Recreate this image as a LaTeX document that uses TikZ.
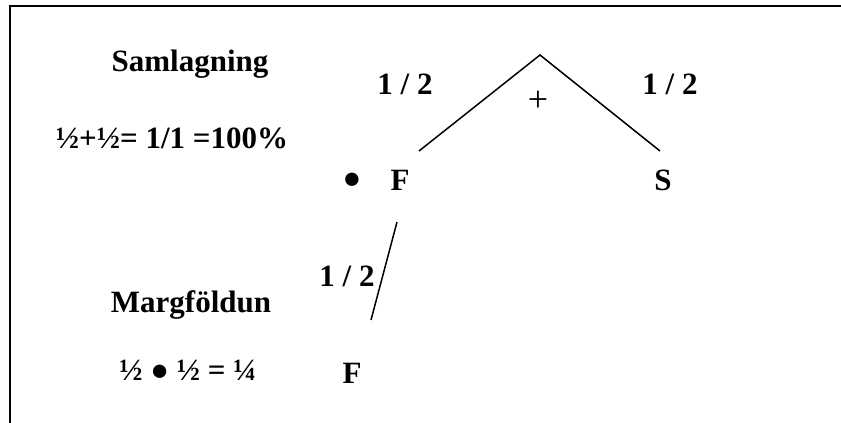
\documentclass[tikz,border=0pt]{standalone}
\usepackage{fontspec}
\setmainfont{Liberation Serif}
\begin{document}
\begin{tikzpicture}[x=1pt,y=-1pt,
  lbl/.style={font=\fontsize{31}{36}\selectfont\bfseries, inner sep=0pt, anchor=base},
  ln/.style={line width=1.5pt}]
\useasboundingbox (0,0) rectangle (841,423);
\draw[line width=2pt] (10,423) -- (10,5.5) -- (841,5.5);
\node[lbl] (sam) at (190,71) {Samlagning};
\node[lbl] (sum) at (172,148) {½+½= 1/1 =100\%};
\coordinate (apex) at (540,55);
\coordinate (lend) at (419,151);
\coordinate (rend) at (660,151);
\draw[ln] (lend) -- (apex) -- (rend);
\node[lbl] (hl) at (405,94) {1 / 2};
\node[lbl] (hr) at (670,94) {1 / 2};
\node[font=\fontsize{36}{40}\selectfont, inner sep=0pt] (plus) at (538,101) {+};
\node[lbl, anchor=center] (dot1) at (352,181) {●};
\node[lbl] (F1) at (400,190) {F};
\node[lbl] (S) at (663,190) {S};
\coordinate (vtop) at (397,222);
\coordinate (vbot) at (371,320);
\draw[ln] (vtop) -- (vbot);
\node[lbl] (hv) at (347,286) {1 / 2};
\node[lbl] (marg) at (191,312) {Margföldun};
\node[lbl] (prod) at (188,380) {½ ● ½ = ¼};
\node[lbl] (F2) at (352,383) {F};
\end{tikzpicture}
\end{document}
